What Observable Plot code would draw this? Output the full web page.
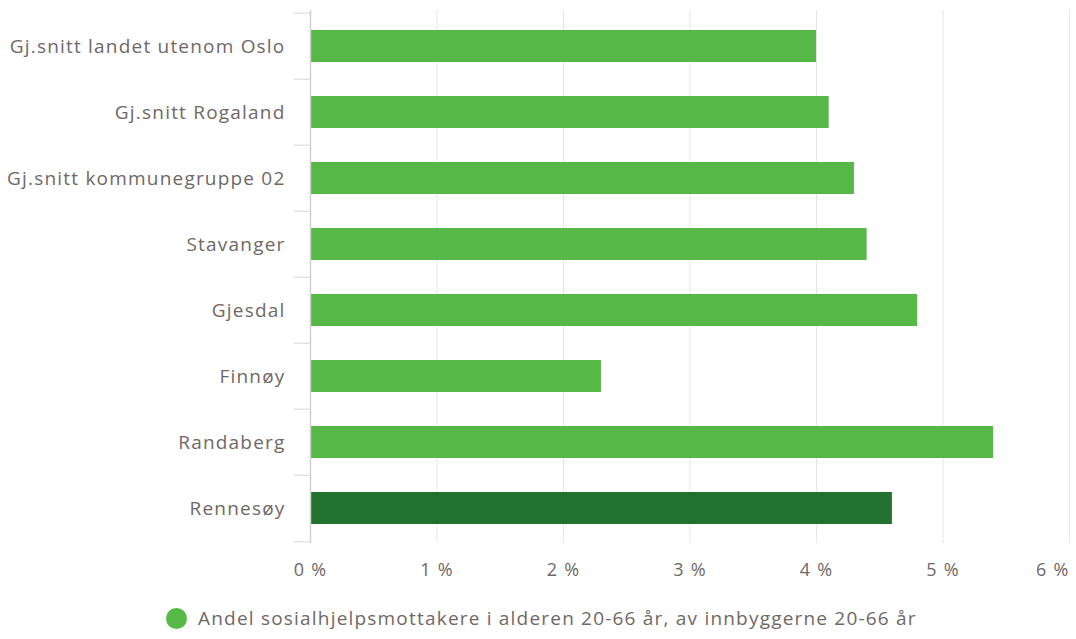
<!DOCTYPE html>
<html><head><meta charset="utf-8">
<script src="https://cdn.jsdelivr.net/npm/d3@7"></script>
<script src="https://cdn.jsdelivr.net/npm/@observablehq/plot@0.6"></script>
<style>
body{margin:0;background:#fff;font-family:"Open Sans",sans-serif;}
#legend{display:flex;align-items:center;margin-left:166px;margin-top:16px;color:#6f6866;font-size:19px;letter-spacing:1.2px;}
#legend span.dot{display:inline-block;width:21px;height:21px;border-radius:50%;background:#56b947;margin-right:11px;}
</style></head><body>
<div id="chart"></div>
<div id="legend"><span class="dot"></span><span id="legtext"></span></div>
<script>
const categories = ["Gj.snitt landet utenom Oslo","Gj.snitt Rogaland","Gj.snitt kommunegruppe 02","Stavanger","Gjesdal","Finnøy","Randaberg","Rennesøy"];
const values = [4.0,4.1,4.3,4.4,4.8,2.3,5.4,4.6];
const highlight = ["Rennesøy"];
const xTicks = [0,1,2,3,4,5,6];
const seriesName = "Andel sosialhjelpsmottakere i alderen 20-66 år, av innbyggerne 20-66 år";
const data = categories.map((c,i)=>({cat:c, value:values[i], hi: highlight.includes(c)}));

const mTop=10, mBottom=46, H=589;
const step=(H-mTop-mBottom)/categories.length;
const textColor="#6f6866";
const fmt = d=>d+" %";
const chart = Plot.plot({
  width:1076, height:H,
  marginLeft:310, marginRight:7, marginTop:mTop, marginBottom:mBottom,
  style:{fontFamily:"Open Sans, sans-serif", color:textColor, background:"#fff", letterSpacing:"1.2px"},
  x:{domain:[0,6], label:null},
  y:{domain:categories, paddingInner:0.52, paddingOuter:0.26, label:null},
  marks:[
    Plot.gridX(xTicks,{stroke:"#e6e6e6", strokeOpacity:1}),
    Plot.barX(data,{y:"cat", x:"value", fill:d=>d.hi?"#217130":"#56b947"}),
    Plot.ruleX([0],{stroke:"#d0d0d0", strokeWidth:1.5}),
    Plot.axisY({tickSize:16, dy:-step/2, tickFormat:()=>"", stroke:"#d6d6d6"}),
    Plot.axisY({ticks:[categories[categories.length-1]], tickSize:16, dy:step/2, tickFormat:()=>"", stroke:"#d6d6d6"}),
    Plot.axisY({tickSize:0, tickPadding:25, fontSize:19, fill:textColor}),
    Plot.axisX({ticks:xTicks.slice(0,-1), tickSize:0, tickPadding:20, fontSize:18, fill:textColor, tickFormat:fmt}),
    Plot.axisX({ticks:xTicks.slice(-1), tickSize:0, tickPadding:20, fontSize:18, fill:textColor, tickFormat:fmt, textAnchor:"end"})
  ]
});
document.getElementById("chart").append(chart);
document.getElementById("legtext").textContent = seriesName;
</script>
</body></html>
